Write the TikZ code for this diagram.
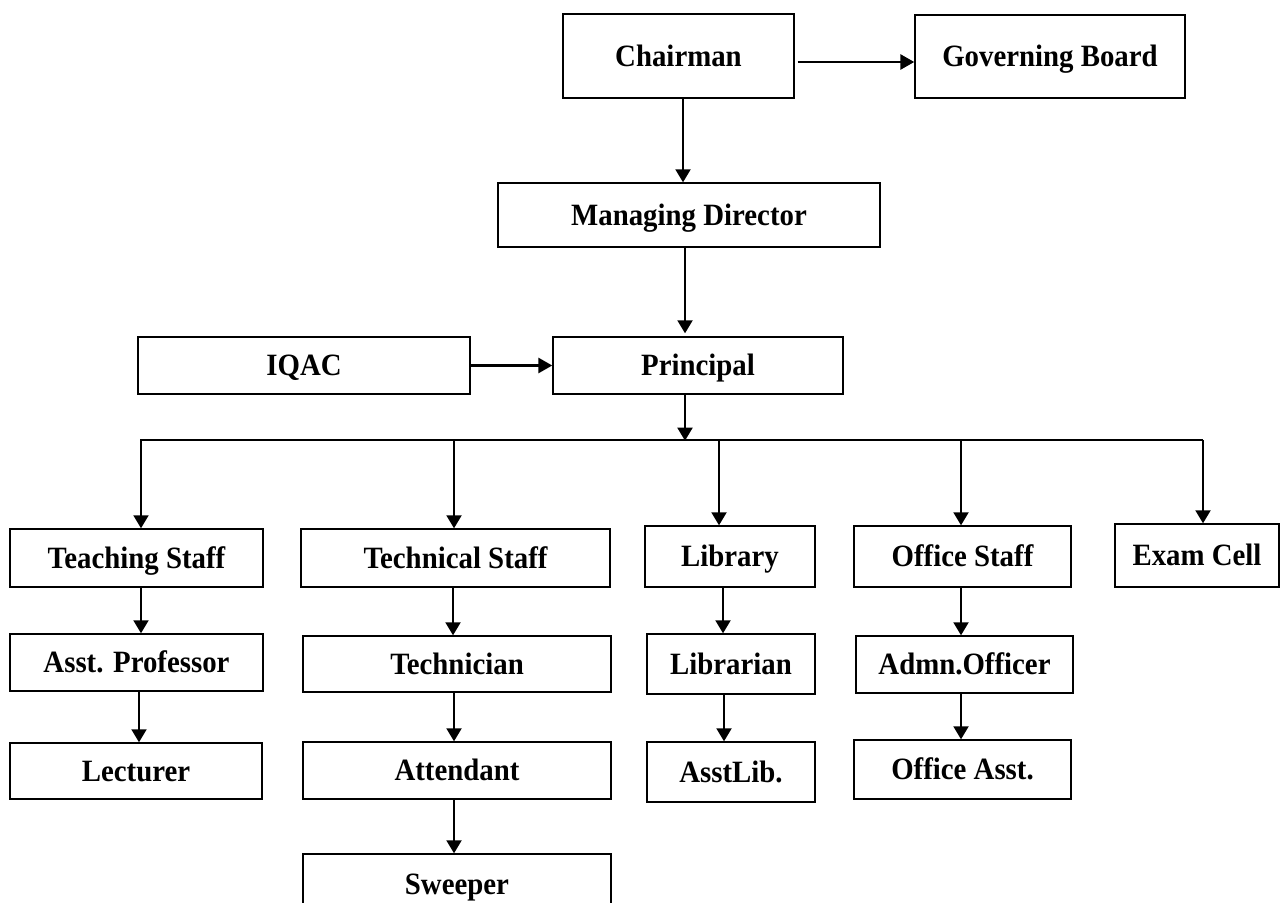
\documentclass[tikz,border=0pt]{standalone}
\usepackage{fontspec}
\setmainfont{Liberation Serif}[FakeStretch=0.93]
\usetikzlibrary{arrows.meta,calc}
\begin{document}
\begin{tikzpicture}[x=0.5pt,y=-0.5pt,
  box/.style={draw,line width=0.7pt,inner sep=0pt,text height=13.8pt,text depth=3.5pt,font=\fontsize{15.5}{18}\selectfont\bfseries},
  arr/.style={line width=1pt,-{Triangle[length=6.5pt,width=7.5pt]}},
  thickarr/.style={line width=1.4pt,-{Triangle[length=7pt,width=7.5pt]}},
  busline/.style={line width=0.8pt}]
\useasboundingbox (0,0) rectangle (1280,903);
% top
\node[box,minimum width=115.5pt,minimum height=42pt] (chair) at (678.5,56) {Chairman};
\node[box,minimum width=135pt,minimum height=41.5pt] (gb) at (1050,56.5) {Governing Board};
\node[box,minimum width=191pt,minimum height=32pt] (md) at (689,215) {Managing Director};
\node[box,minimum width=166pt,minimum height=28.5pt] (iqac) at (304,365.5) {IQAC};
\node[box,minimum width=145pt,minimum height=28.5pt] (prin) at (698,365.5) {Principal};
% level 1
\node[box,minimum width=126.5pt,minimum height=29pt] (teach) at (136.5,558) {Teaching Staff};
\node[box,minimum width=154.5pt,minimum height=29pt] (techs) at (455.5,558) {Technical Staff};
\node[box,minimum width=85pt,minimum height=30.5pt] (lib) at (730,556.5) {Library};
\node[box,minimum width=108.5pt,minimum height=30.5pt] (off) at (962.5,556.5) {Office Staff};
\node[box,minimum width=82pt,minimum height=31.5pt] (exam) at (1197,555.5) {Exam Cell};
% level 2
\node[box,minimum width=126.5pt,minimum height=28.5pt] (ap) at (136.5,662.5) {Asst. Professor};
\node[box,minimum width=154pt,minimum height=28pt] (techn) at (457,664) {Technician};
\node[box,minimum width=84pt,minimum height=30pt] (libn) at (731,664) {Librarian};
\node[box,minimum width=108.5pt,minimum height=28.5pt] (adm) at (964.5,664.5) {Admn.Officer};
% level 3
\node[box,minimum width=126pt,minimum height=28pt] (lect) at (136,771) {Lecturer};
\node[box,minimum width=154pt,minimum height=28.5pt] (att) at (457,770.5) {Attendant};
\node[box,minimum width=84pt,minimum height=30pt] (asstlib) at (731,772) {AsstLib.};
\node[box,minimum width=108.5pt,minimum height=29.5pt] (oasst) at (962.5,769.5) {Office Asst.};
% level 4
\node[box,minimum width=154pt,minimum height=30pt] (sweep) at (457,884) {Sweeper};
% bus
\coordinate (busL) at (140,440);
\coordinate (busR) at (1203,440);
\coordinate (dTeach) at (141,440);
\coordinate (dTech) at (454,440);
\coordinate (dLib) at (719,440);
\coordinate (dOff) at (961,440);
\draw[busline] (busL) -- (busR);
% connectors
\draw[thickarr] ($(chair.east)+(3,6)$) -- ($(gb.west)+(0,5.5)$);
\draw[arr] ($(chair.south)+(4.5,0)$) -- ($(md.north)+(-6,0)$);
\draw[arr] ($(md.south)+(-4,0)$) -- ($(prin.north)+(-13,-3)$);
\draw[thickarr] (iqac.east) -- (prin.west);
\draw[arr] ($(prin.south)+(-13,0)$) -- ($(prin.south)+(-13,46)$);
\draw[arr] (dTeach) -- (dTeach |- teach.north);
\draw[arr] (dTech) -- (dTech |- techs.north);
\draw[arr] (dLib) -- (dLib |- lib.north);
\draw[arr] (dOff) -- (dOff |- off.north);
\draw[arr] (busR) -- (busR |- exam.north);
\draw[arr] ($(teach.south)+(4.5,0)$) -- ($(ap.north)+(4.5,0)$);
\draw[arr] ($(ap.south)+(2.5,0)$) -- ($(lect.north)+(3,0)$);
\draw[arr] ($(techs.south)+(-2.5,0)$) -- ($(techn.north)+(-4,0)$);
\draw[arr] ($(techn.south)+(-3,0)$) -- ($(att.north)+(-3,0)$);
\draw[arr] ($(att.south)+(-3,0)$) -- ($(sweep.north)+(-3,0)$);
\draw[arr] ($(lib.south)+(-7,0)$) -- ($(libn.north)+(-8,0)$);
\draw[arr] ($(libn.south)+(-7,0)$) -- ($(asstlib.north)+(-7,0)$);
\draw[arr] ($(off.south)+(-1.5,0)$) -- ($(adm.north)+(-3.5,0)$);
\draw[arr] ($(adm.south)+(-3.5,0)$) -- ($(oasst.north)+(-1.5,0)$);
\end{tikzpicture}
\end{document}
